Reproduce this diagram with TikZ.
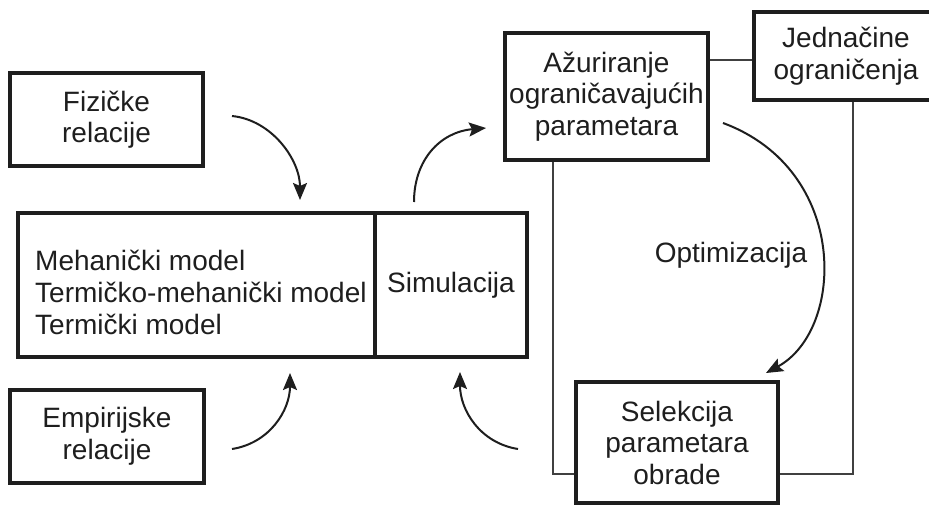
\documentclass[tikz,border=0pt]{standalone}
\usepackage{fontspec}
\setmainfont{Liberation Sans}
\usetikzlibrary{arrows.meta}
\definecolor{ink}{HTML}{1E1E1E}
\begin{document}
\begin{tikzpicture}[x=1pt,y=-1pt,
  box/.style={draw=ink, line width=3.4pt, rectangle, inner sep=0pt, align=center,
    text=ink, font=\fontsize{28}{31.5}\selectfont},
  link/.style={draw=ink!85, line width=1.8pt},
  flow/.style={draw=ink, line width=2pt, -{Stealth[length=17pt,width=14pt,inset=3pt]}},
  lbl/.style={text=ink, font=\fontsize{28}{32}\selectfont, inner sep=0pt}]
\clip (0,0) rectangle (929,506);

% input relations
\node[box, minimum width=193pt, minimum height=93pt] (fiz) at (106.5,119.5) {Fizičke\\relacije};
\node[box, minimum width=194pt, minimum height=93pt] (emp) at (107,436.5) {Empirijske\\relacije};

% model block with simulation part
\node[box, minimum width=357pt, minimum height=144pt] (model) at (196.5,285) {};
\node[box, minimum width=152pt, minimum height=144pt] (sim) at (451,285) {\raisebox{-3pt}{Simulacija}};
\node[lbl, anchor=west, align=left] (modeltext) at (35,292)
  {Mehanički model\\Termičko-mehanički model\\Termički model};

% optimisation loop
\node[box, minimum width=203pt, minimum height=127pt] (azu) at (606.5,96.5)
  {Ažuriranje\\ograničavajućih\\parametara};
\node[box, minimum width=184pt, minimum height=88pt] (jed) at (846,56)
  {Jednačine\\ograničenja};
\node[box, minimum width=202pt, minimum height=121pt] (sel) at (677,442.5)
  {Selekcija\\parametara\\obrade};
\node[lbl] (opt) at (731,255) {Optimizacija};

% thin links
\draw[link] ([yshift=-4pt]jed.west) -- ([yshift=-4pt]jed.west -| azu.east);
\draw[link] ([xshift=-53.5pt]azu.south) |- ([yshift=-31.5pt]sel.west);
\draw[link] ([xshift=7pt]jed.south) |- ([yshift=-31.5pt]sel.east);

% curved flow arrows
\coordinate (fizout) at (232,116);
\coordinate (fizin) at (300,200);
\coordinate (empout) at (232,449);
\coordinate (empin) at (290,373);
\coordinate (simout) at (414,202);
\coordinate (azuin) at (486,128);
\coordinate (selout) at (518,449);
\coordinate (simin) at (460,372);
\coordinate (azuout) at (723,123);
\coordinate (selin) at (766,373);

\draw[flow] (fizout) .. controls (272,120) and (300,160) .. (fizin);
\draw[flow] (empout) .. controls (270,443) and (290,410) .. (empin);
\draw[flow] (simout) .. controls (414,160) and (440,132) .. (azuin);
\draw[flow] (selout) .. controls (480,443) and (460,410) .. (simin);
\draw[flow] (azuout) .. controls (850,170) and (845,330) .. (selin);
\end{tikzpicture}
\end{document}
